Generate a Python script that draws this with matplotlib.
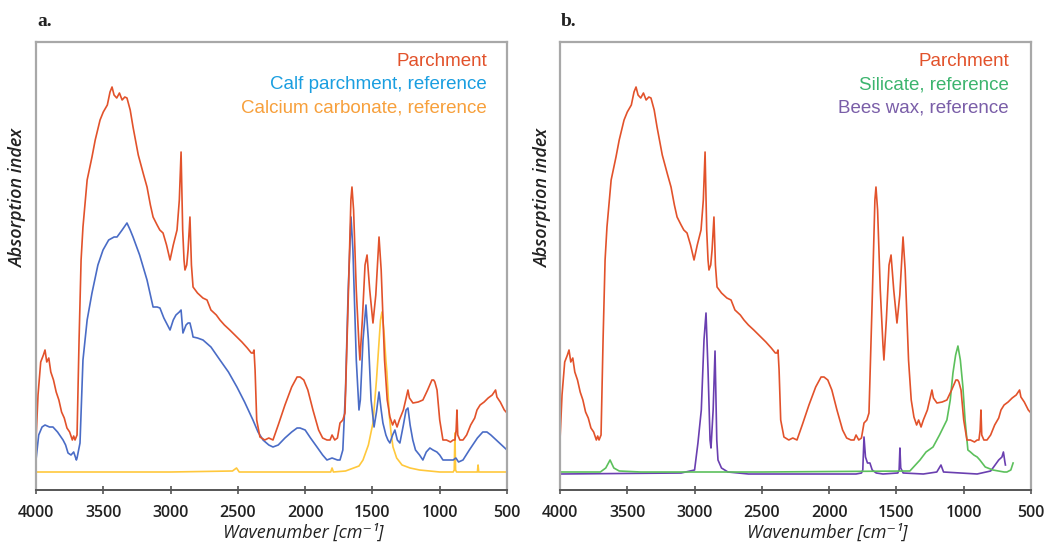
import matplotlib
matplotlib.use("Agg")
import matplotlib.pyplot as plt
import numpy as np

# ---------------- data (wavenumber, relative absorption) ----------------
parch_wn = [4000, 3985, 3965, 3945, 3933, 3920, 3905, 3890, 3870, 3850, 3830, 3810, 3790, 3770,
            3750, 3730, 3720, 3710, 3695, 3680, 3665, 3651, 3620, 3584, 3560, 3524, 3500, 3470,
            3450, 3435, 3420, 3400, 3380, 3360, 3340, 3324, 3300, 3279, 3240, 3200, 3175, 3150,
            3130, 3100, 3080, 3056, 3030, 3004, 2980, 2952, 2935, 2922, 2910, 2900, 2893, 2880,
            2870, 2856, 2845, 2833, 2800, 2760, 2729, 2700, 2660, 2633, 2600, 2560, 2507, 2470,
            2430, 2400, 2388, 2380, 2372, 2360, 2336, 2300, 2270, 2239, 2200, 2150, 2100, 2060,
            2038, 2010, 1980, 1942, 1900, 1870, 1838, 1815, 1800, 1780, 1760, 1741, 1720, 1704,
            1680, 1660, 1652, 1640, 1620, 1600, 1593, 1575, 1555, 1540, 1520, 1496, 1475, 1451,
            1435, 1410, 1390, 1370, 1350, 1335, 1317, 1300, 1270, 1245, 1236, 1225, 1199, 1160,
            1125, 1090, 1058, 1045, 1036, 1020, 1000, 976, 950, 920, 900, 887, 878, 872, 866,
            850, 827, 800, 770, 740, 723, 700, 670, 640, 610, 585, 575, 550, 520, 500]
parch_val = [50, 95, 128, 135, 140, 128, 132, 118, 110, 98, 90, 78, 72, 62,
             58, 50, 54, 50, 55, 150, 230, 263, 310, 333, 350, 370, 378, 385,
             398, 403, 395, 392, 397, 390, 393, 392, 380, 363, 335, 315, 303, 285,
             273, 265, 260, 257, 245, 230, 245, 260, 290, 338, 260, 230, 220, 225,
             240, 273, 225, 203, 197, 192, 190, 180, 175, 170, 165, 160, 153, 148,
             142, 137, 137, 140, 120, 70, 53, 50, 52, 50, 65, 85, 103, 113,
             113, 110, 100, 80, 60, 52, 50, 50, 55, 50, 52, 67, 70, 77,
             190, 290, 303, 280, 200, 145, 130, 170, 225, 235, 200, 167, 195, 253,
             220, 130, 90, 73, 65, 70, 63, 70, 80, 95, 100, 92, 87, 88,
             90, 100, 110, 110, 108, 100, 70, 50, 50, 48, 50, 50, 60, 80, 55,
             50, 50, 55, 65, 72, 80, 85, 88, 92, 95, 100, 93, 88, 80, 77]

calf_wn = [4000, 3980, 3955, 3933, 3900, 3874, 3840, 3799, 3780, 3762, 3740, 3720, 3700, 3695,
           3673, 3651, 3620, 3584, 3540, 3502, 3460, 3420, 3398, 3360, 3324, 3300, 3279, 3230,
           3175, 3130, 3100, 3079, 3050, 3004, 2980, 2960, 2935, 2922, 2908, 2885, 2870, 2856,
           2840, 2833, 2800, 2759, 2700, 2633, 2570, 2507, 2450, 2388, 2350, 2313, 2270, 2239,
           2200, 2150, 2100, 2060, 2038, 2000, 1960, 1912, 1870, 1838, 1800, 1760, 1741, 1720,
           1700, 1680, 1659, 1645, 1620, 1600, 1590, 1570, 1548, 1530, 1510, 1488, 1470, 1451,
           1435, 1422, 1400, 1385, 1370, 1350, 1333, 1315, 1296, 1270, 1250, 1236, 1220, 1200,
           1180, 1150, 1125, 1100, 1073, 1050, 1021, 1000, 976, 900, 880, 860, 827, 780,
           720, 680, 649, 620, 580, 540, 500]
calf_val = [30, 55, 63, 65, 63, 63, 58, 50, 45, 37, 35, 38, 30, 32,
            47, 130, 170, 197, 225, 240, 250, 253, 253, 260, 267, 260, 253, 235,
            210, 183, 183, 182, 172, 160, 170, 175, 178, 180, 157, 165, 167, 167,
            158, 153, 152, 150, 143, 130, 118, 103, 88, 70, 58, 50, 45, 43,
            45, 52, 58, 62, 62, 60, 52, 43, 35, 30, 32, 30, 30, 40,
            100, 200, 273, 240, 130, 80, 90, 150, 185, 150, 90, 63, 78, 98,
            80, 67, 55, 50, 47, 55, 60, 50, 47, 65, 80, 82, 65, 50,
            40, 35, 30, 38, 42, 40, 38, 35, 30, 30, 32, 28, 30, 40,
            52, 58, 58, 55, 50, 45, 40]

caco3_wn = [4000, 3500, 3000, 2540, 2510, 2490, 2000, 1810, 1800, 1790, 1700, 1600, 1570, 1530,
            1496, 1470, 1450, 1440, 1429, 1415, 1400, 1392, 1375, 1360, 1347, 1320, 1280, 1220,
            1150, 1000, 900, 892, 887, 882, 875, 800, 720, 715, 710, 600, 500]
caco3_val = [18, 18, 18, 19, 22, 18, 18, 18, 22, 18, 19, 24, 30, 45,
             67, 110, 150, 170, 178, 160, 130, 117, 75, 55, 43, 32, 25, 22,
             20, 18, 18, 20, 57, 20, 18, 18, 18, 25, 18, 18, 18]

silic_wn = [4000, 3700, 3660, 3628, 3600, 3560, 3400, 2500, 1400, 1325, 1280, 1228, 1180, 1125,
            1100, 1080, 1060, 1043, 1025, 1006, 990, 969, 950, 925, 900, 880, 840, 783,
            700, 679, 650, 633]
silic_val = [18, 18, 22, 30, 22, 19, 18, 18, 19, 30, 38, 43, 55, 70,
             90, 117, 135, 144, 130, 103, 70, 40, 38, 35, 33, 30, 23, 20,
             18, 18, 20, 27]

wax_wn = [4000, 3100, 3000, 2975, 2950, 2930, 2915, 2900, 2885, 2878, 2862, 2848, 2835, 2826,
          2800, 2752, 2600, 1800, 1760, 1750, 1741, 1730, 1715, 1697, 1680, 1650, 1600, 1490,
          1480, 1474, 1468, 1450, 1300, 1200, 1169, 1150, 900, 800, 783, 740, 716, 705,
          694, 690]
wax_val = [16, 17, 20, 47, 80, 150, 177, 120, 50, 42, 80, 139, 50, 30,
           22, 18, 16, 16, 17, 20, 53, 33, 27, 27, 20, 17, 16, 17,
           20, 42, 22, 17, 16, 18, 25, 18, 16, 19, 22, 30, 33, 38,
           28, 25]

xticks = [4000, 3500, 3000, 2500, 2000, 1500, 1000, 500]

# ---------------- colours ----------------
c_parch = "#e2522b"
c_calf_line, c_calf_txt = "#4a6cc6", "#1a9ee0"
c_caco_line, c_caco_txt = "#ffc83c", "#f7a03c"
c_sil_line, c_sil_txt = "#5cc05c", "#3cb46e"
c_wax_line, c_wax_txt = "#6a3fb0", "#7a5ea8"

W, H = 1048, 543
fig = plt.figure(figsize=(W / 100, H / 100), dpi=100)

tickfont = dict(family=["Open Sans", "DejaVu Sans"], weight="semibold", size=11.5)
labfont = dict(family=["Open Sans", "DejaVu Sans"], style="italic", size=13)


def make_ax(left_px):
    ax = fig.add_axes([left_px / W, (H - 490) / H, 471 / W, 448 / H])
    ax.set_xlim(4000, 500)
    ax.set_ylim(0, 448)
    ax.set_yticks([])
    ax.set_xticks(xticks)
    ax.set_xticklabels([str(t) for t in xticks], **tickfont)
    ax.tick_params(axis="x", direction="inout", length=6, width=1.2, color="#555555",
                   pad=8, labelcolor="#222222")
    for s in ["top", "left", "right"]:
        ax.spines[s].set_color("#a8a8a8")
        ax.spines[s].set_linewidth(1.6)
    ax.spines["bottom"].set_color("#555555")
    ax.spines["bottom"].set_linewidth(1.4)
    return ax


lw = 1.2
# panel a
axa = make_ax(36)
axa.plot(caco3_wn, caco3_val, color=c_caco_line, lw=lw)
axa.plot(calf_wn, calf_val, color=c_calf_line, lw=lw)
axa.plot(parch_wn, parch_val, color=c_parch, lw=lw)

# panel b
axb = make_ax(560)
axb.plot(wax_wn, wax_val, color=c_wax_line, lw=lw)
axb.plot(silic_wn, silic_val, color=c_sil_line, lw=lw)
axb.plot(parch_wn, parch_val, color=c_parch, lw=lw)

legfont = dict(family=["Liberation Sans", "DejaVu Sans"], size=13.5, ha="right", va="center")
for xr, items in [(487, [("Parchment", c_parch), ("Calf parchment, reference", c_calf_txt),
                         ("Calcium carbonate, reference", c_caco_txt)]),
                  (1009, [("Parchment", c_parch), ("Silicate, reference", c_sil_txt),
                          ("Bees wax, reference", c_wax_txt)])]:
    for i, (t, c) in enumerate(items):
        fig.text(xr / W, 1 - (62 + 23 * i) / H, t, color=c, **legfont)

for xl, lab in [(37, "a."), (561, "b.")]:
    fig.text(xl / W, 1 - 21 / H, lab, family=["Liberation Serif", "DejaVu Serif"],
             weight="bold", size=14, ha="left", va="center", color="#222222")

for xc in [303, 827]:
    fig.text(xc / W, 1 - 533 / H, "Wavenumber [cm⁻¹]", ha="center", va="center",
             color="#222222", **labfont)

for xc in [18, 543]:
    fig.text(xc / W, 1 - 198 / H, "Absorption index", rotation=90, ha="center", va="center",
             color="#222222", weight="semibold", **labfont)

fig.savefig("out.png", dpi=100)
